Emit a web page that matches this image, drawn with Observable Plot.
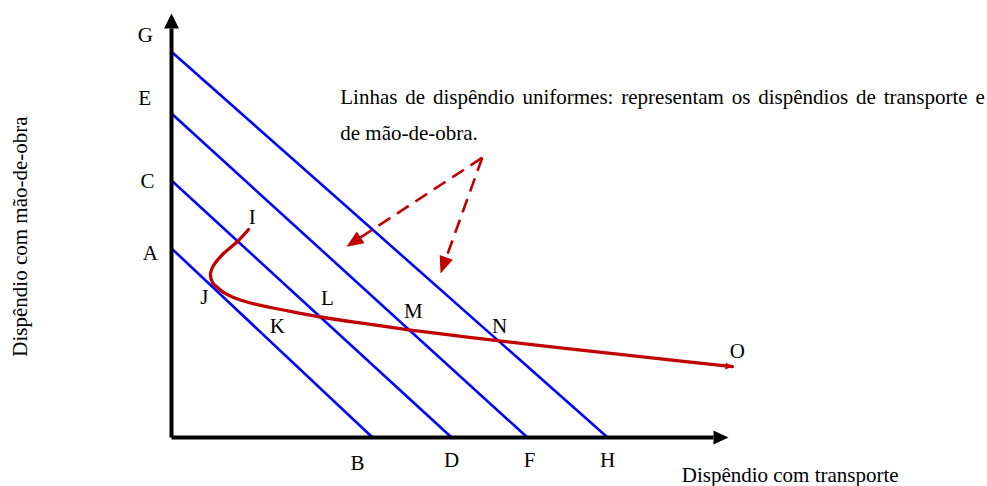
<!DOCTYPE html>
<html><head><meta charset="utf-8">
<script src="https://cdn.jsdelivr.net/npm/d3@7"></script>
<script src="https://cdn.jsdelivr.net/npm/@observablehq/plot@0.6"></script>
<style>body{margin:0;background:#fff}</style>
</head><body><div id="chart"></div>
<script>
// Uniform-expenditure lines: intercepts on the labour (y) and transport (x) axes
const isoStartLabels = ["A", "C", "E", "G"];
const isoEndLabels = ["B", "D", "F", "H"];
const isoYIntercepts = [44.6, 60.6, 76.4, 91.0];
const isoXIntercepts = [36.1, 50.3, 63.9, 78.3];

// Red curve I -> J -> K -> L -> M -> N -> O
const curveX = [13.82, 11.85, 9.34, 7.54, 7.00, 7.36, 8.26, 9.34, 11.13, 14.18, 17.77, 21.36, 26.75, 34.83, 42.91, 50.99, 58.53, 69.84, 84.20, 100.72];
const curveY = [49.06, 46.23, 43.40, 40.57, 38.68, 36.56, 35.38, 34.20, 33.02, 31.72, 30.66, 29.72, 28.42, 26.84, 25.35, 24.01, 22.83, 21.16, 19.06, 16.70];

// Point labels
const pointLabels = ["G", "E", "C", "A", "B", "D", "F", "H", "I", "J", "K", "L", "M", "N", "O"];
const labelX = [-4.7, -4.8, -4.3, -3.8, 33.4, 50.3, 64.3, 78.3, 14.5, 5.9, 19.0, 28.0, 43.4, 58.9, 101.6];
const labelY = [94.8, 80.0, 60.4, 43.4, -6.1, -5.4, -5.4, -5.4, 51.9, 33.0, 26.2, 32.8, 29.7, 26.2, 20.3];

// Annotation and dashed pointer arrows
const noteLines = ["Linhas de dispêndio uniformes: representam os dispêndios de transporte e", "de mão-de-obra."];
const noteX = [30.3, 30.3];
const noteY = [80.2, 71.7];
const pointerStart = [55.8, 66.0];
const pointerTipsX = [31.4, 48.3];
const pointerTipsY = [45.0, 38.7];

const yTitle = "Dispêndio com mão-de-obra";
const xTitle = "Dispêndio com transporte";

// scales (shared with Plot)
const xDomain = [0, 100], xRange = [171, 728];
const yDomain = [0, 100], yRange = [437, 13];
const xs = d3.scaleLinear(xDomain, xRange);
const ys = d3.scaleLinear(yDomain, yRange);

function head(id, tip, from, len, half) {
  const tx = xs(tip[0]), ty = ys(tip[1]), fx = xs(from[0]), fy = ys(from[1]);
  const dx = tx - fx, dy = ty - fy, d = Math.hypot(dx, dy);
  const ux = dx / d, uy = dy / d;
  const bx = tx - ux * len, by = ty - uy * len;
  const pts = [[tx, ty], [bx - uy * half, by + ux * half], [bx + uy * half, by - ux * half]];
  return {
    base: [xs.invert(bx), ys.invert(by)],
    pts: pts.map(([px, py]) => ({id, x: xs.invert(px), y: ys.invert(py)}))
  };
}

const iso = isoYIntercepts.map((y, i) => ({x1: 0, y1: y, x2: isoXIntercepts[i], y2: 0}));
const curve = curveX.map((x, i) => ({x, y: curveY[i]}));
const labels = pointLabels.map((t, i) => ({t, x: labelX[i], y: labelY[i]}));
const notes = noteLines.map((t, i) => ({t, x: noteX[i], y: noteY[i]}));

// axis arrows
const xHead = head("xa", [xDomain[1], 0], [0, 0], 15, 7);
const yHead = head("ya", [0, yDomain[1]], [0, 0], 15, 7.5);
const axes = [
  {x1: 0, y1: 0, x2: xHead.base[0], y2: 0},
  {x1: 0, y1: 0, x2: 0, y2: yHead.base[1]}
];

// pointer arrows
const pointerHeads = pointerTipsX.map((x, i) => head("p" + i, [x, pointerTipsY[i]], pointerStart, 17, 7));
const pointers = pointerHeads.map(h => ({x1: pointerStart[0], y1: pointerStart[1], x2: h.base[0], y2: h.base[1]}));

// tiny head at O end of the curve
const n = curve.length;
const oHead = head("o", [curve[n - 1].x, curve[n - 1].y], [curve[n - 2].x, curve[n - 2].y], 7, 3.5);

const red = "#c00000";
const font = "'Liberation Serif', 'Times New Roman', serif";

const chart = Plot.plot({
  width: 987,
  height: 486,
  margin: 0,
  x: {domain: xDomain, range: xRange, axis: null},
  y: {domain: yDomain, range: yRange, axis: null},
  style: {background: "#fff", fontFamily: font},
  marks: [
    Plot.link(iso, {x1: "x1", y1: "y1", x2: "x2", y2: "y2", stroke: "#0000ff", strokeWidth: 2.6}),
    Plot.link(axes, {x1: "x1", y1: "y1", x2: "x2", y2: "y2", stroke: "#000", strokeWidth: 4}),
    Plot.line([...xHead.pts, ...yHead.pts], {x: "x", y: "y", z: "id", fill: "#000", stroke: "none", curve: "linear"}),
    Plot.line(curve, {x: "x", y: "y", stroke: red, strokeWidth: 3.3, curve: "catmull-rom"}),
    Plot.line(oHead.pts, {x: "x", y: "y", z: "id", fill: red, stroke: "none", curve: "linear"}),
    Plot.link(pointers, {x1: "x1", y1: "y1", x2: "x2", y2: "y2", stroke: red, strokeWidth: 2.6, strokeDasharray: "14,8"}),
    Plot.line(pointerHeads.flatMap(h => h.pts), {x: "x", y: "y", z: "id", fill: red, stroke: "none", curve: "linear"}),
    Plot.text(labels, {x: "x", y: "y", text: "t", fontSize: 21, fill: "#000", textAnchor: "middle", lineAnchor: "middle"}),
    Plot.text(notes, {x: "x", y: "y", text: "t", fontSize: 21, fill: "#000", textAnchor: "start", lineAnchor: "middle"}),
    Plot.text([yTitle], {x: -27.1, y: 47.4, text: d => d, fontSize: 21, fill: "#000", rotate: -90, textAnchor: "middle", lineAnchor: "middle"}),
    Plot.text([xTitle], {x: 91.6, y: -9.0, text: d => d, fontSize: 21, fill: "#000", textAnchor: "start", lineAnchor: "middle"})
  ]
});
// justify the first annotation line like the reference
chart.querySelectorAll("text").forEach(t => {
  if (t.textContent === noteLines[0]) t.setAttribute("word-spacing", "2.6");
});
document.getElementById("chart").appendChild(chart);
</script>
</body></html>
